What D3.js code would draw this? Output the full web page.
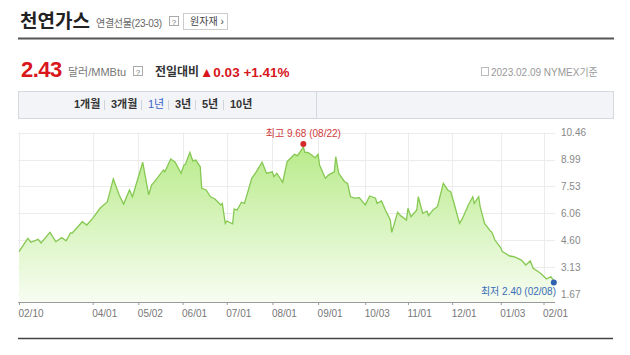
<!DOCTYPE html>
<html>
<head>
<meta charset="utf-8">
<script src="https://cdn.jsdelivr.net/npm/d3@7"></script>
<style>
  body { margin: 0; background: #fff; }
  svg { display: block; font-family: "Liberation Sans", "Noto Sans CJK KR", sans-serif; }
</style>
</head>
<body>
<svg id="chart" width="630" height="355"></svg>
<script>
// chart data
var dates = ["2022-02-10","2022-02-16","2022-02-18","2022-02-23","2022-02-25","2022-03-03","2022-03-07","2022-03-11","2022-03-14","2022-03-17",
  "2022-03-18","2022-03-25","2022-03-28","2022-04-01","2022-04-06","2022-04-11","2022-04-15","2022-04-19","2022-04-22","2022-04-26",
  "2022-04-28","2022-05-05","2022-05-09","2022-05-11","2022-05-13","2022-05-19","2022-05-20","2022-05-24","2022-05-27","2022-05-31",
  "2022-06-02","2022-06-03","2022-06-06","2022-06-08","2022-06-10","2022-06-13","2022-06-14","2022-06-17","2022-06-20","2022-06-23",
  "2022-06-27","2022-06-28","2022-06-30","2022-07-01","2022-07-05","2022-07-06","2022-07-08","2022-07-11","2022-07-13","2022-07-18",
  "2022-07-21","2022-07-25","2022-07-28","2022-08-01","2022-08-02","2022-08-04","2022-08-08","2022-08-11","2022-08-16","2022-08-18",
  "2022-08-22","2022-08-23","2022-08-25","2022-08-26","2022-08-30","2022-09-01","2022-09-02","2022-09-06","2022-09-08","2022-09-12",
  "2022-09-13","2022-09-15","2022-09-19","2022-09-21","2022-09-23","2022-09-26","2022-09-29","2022-10-03","2022-10-06","2022-10-10",
  "2022-10-11","2022-10-14","2022-10-17","2022-10-20","2022-10-21","2022-10-25","2022-10-27","2022-10-31","2022-11-01","2022-11-03",
  "2022-11-07","2022-11-08","2022-11-11","2022-11-14","2022-11-15","2022-11-18","2022-11-21","2022-11-25","2022-11-28","2022-11-30",
  "2022-12-02","2022-12-06","2022-12-08","2022-12-12","2022-12-15","2022-12-16","2022-12-19","2022-12-20","2022-12-23","2022-12-27",
  "2022-12-28","2022-12-30","2023-01-03","2023-01-04","2023-01-06","2023-01-09","2023-01-12","2023-01-17","2023-01-20","2023-01-23",
  "2023-01-25","2023-01-30","2023-02-03","2023-02-06","2023-02-08"];
var prices = [3.98,4.70,4.49,4.65,4.45,5.03,4.52,4.74,4.57,5.01,
  4.98,5.61,5.43,5.79,6.34,6.70,7.94,7.07,6.57,7.34,
  6.97,8.85,7.07,7.61,7.79,8.43,8.33,9.03,8.85,8.25,
  8.70,8.74,9.39,8.92,8.97,8.61,7.43,7.34,6.97,6.85,
  6.52,6.61,5.52,5.65,5.50,6.30,6.25,6.67,6.61,7.97,
  8.33,8.85,8.25,8.33,8.06,8.25,7.76,8.88,9.28,9.21,
  9.68,9.39,9.39,9.34,9.10,9.28,8.70,7.97,8.15,8.33,
  9.15,8.25,7.79,7.70,6.97,6.89,6.92,6.52,7.01,6.89,
  6.61,6.74,6.19,5.70,5.03,6.12,5.94,5.70,6.34,5.88,
  6.25,6.97,6.07,6.19,5.94,6.25,6.43,7.70,7.34,7.25,
  6.70,5.52,5.79,6.52,6.97,6.61,6.97,6.43,5.52,5.10,
  5.03,4.61,4.19,3.98,3.89,3.74,3.70,3.52,3.25,3.47,
  3.07,2.80,2.49,2.61,2.40];
var xTickDates = ["2022-02-10","2022-04-01","2022-05-02","2022-06-01","2022-07-01","2022-08-01","2022-09-01","2022-10-03","2022-11-01","2022-12-01","2023-01-03","2023-02-01"];
var yTicks = [1.67, 3.13, 4.60, 6.06, 7.53, 8.99, 10.46];
var tabs = ["1개월", "3개월", "1년", "3년", "5년", "10년"];

var parse = d3.timeParse("%Y-%m-%d");
var data = dates.map(function(d, i){ return {date: parse(d), value: prices[i]}; });

var svg = d3.select("#chart");

// header
svg.append("text").attr("x", 20).attr("y", 28).attr("font-size", 19).attr("font-weight", "bold")
  .attr("fill", "#222").text("천연가스");
svg.append("text").attr("x", 96).attr("y", 27).attr("font-size", 10).attr("letter-spacing", -0.3).attr("fill", "#666").text("연결선물(23-03)");
svg.append("rect").attr("x", 169.5).attr("y", 16.5).attr("width", 9).attr("height", 9).attr("fill", "#fff").attr("stroke", "#aaa");
svg.append("text").attr("x", 174).attr("y", 24.5).attr("font-size", 8).attr("text-anchor", "middle").attr("fill", "#777").text("?");
svg.append("rect").attr("x", 183.5).attr("y", 13.5).attr("width", 44).attr("height", 16).attr("fill", "#fff").attr("stroke", "#ccc");
svg.append("text").attr("x", 190).attr("y", 25).attr("font-size", 10).attr("fill", "#444").text("원자재 ›");
svg.append("line").attr("x1", 18).attr("x2", 614).attr("y1", 38.5).attr("y2", 38.5).attr("stroke", "#555").attr("stroke-width", 2);

// price row
svg.append("text").attr("x", 21).attr("y", 77).attr("font-size", 22).attr("font-weight", "bold")
  .attr("fill", "#d8161b").attr("letter-spacing", -0.5).text("2.43");
svg.append("text").attr("x", 68).attr("y", 76).attr("font-size", 11).attr("fill", "#777").text("달러/MMBtu");
svg.append("rect").attr("x", 133.5).attr("y", 66.5).attr("width", 9).attr("height", 9).attr("fill", "#fff").attr("stroke", "#aaa");
svg.append("text").attr("x", 138).attr("y", 74.5).attr("font-size", 8).attr("text-anchor", "middle").attr("fill", "#777").text("?");
svg.append("text").attr("x", 155).attr("y", 76).attr("font-size", 12).attr("font-weight", "bold").attr("fill", "#333").text("전일대비");
svg.append("text").attr("x", 200).attr("y", 77).attr("font-size", 13.5).attr("font-weight", "bold").attr("fill", "#d8161b").text("▲0.03 +1.41%");
svg.append("rect").attr("x", 481.5).attr("y", 67.5).attr("width", 7).attr("height", 8).attr("fill", "none").attr("stroke", "#bbb");
svg.append("text").attr("x", 491).attr("y", 76).attr("font-size", 10).attr("fill", "#999").text("2023.02.09 NYMEX기준");

// tab bar
svg.append("rect").attr("x", 18.5).attr("y", 91.5).attr("width", 595).attr("height", 27).attr("fill", "#f2f4f8").attr("stroke", "#d5d8de");
svg.append("line").attr("x1", 316.5).attr("x2", 316.5).attr("y1", 92).attr("y2", 118).attr("stroke", "#d5d8de");
var tabX = [74, 111, 148, 175, 202, 230];
tabs.forEach(function(t, i){
  svg.append("text").attr("x", tabX[i]).attr("y", 108).attr("font-size", 11)
    .attr("font-weight", i == 2 ? "normal" : "bold")
    .attr("fill", i == 2 ? "#3d63c9" : "#333").text(t);
  if (i > 0)
    svg.append("line").attr("x1", tabX[i] - 6.5).attr("x2", tabX[i] - 6.5).attr("y1", 100).attr("y2", 110).attr("stroke", "#d0d4da");
});

// chart
var left = 18, right = 555, bottom = 302;
var x = d3.scaleTime().domain([parse("2022-02-10"), parse("2023-02-01")]).range([19, 543.5]);
var y = d3.scaleLinear().domain([1.67, 10.46]).range([294, 132.7]);

var defs = svg.append("defs");
var grad = defs.append("linearGradient").attr("id", "fillGrad").attr("gradientUnits", "userSpaceOnUse")
  .attr("x1", 0).attr("x2", 0).attr("y1", 140).attr("y2", bottom);
grad.append("stop").attr("offset", "0%").attr("stop-color", "#b6ea86");
grad.append("stop").attr("offset", "100%").attr("stop-color", "#f7fdf2");

// grid
var grid = svg.append("g");
grid.selectAll(".hg").data(yTicks).enter().append("line")
  .attr("x1", left).attr("x2", right)
  .attr("y1", function(d){ return Math.round(y(d)) + 0.5; }).attr("y2", function(d){ return Math.round(y(d)) + 0.5; })
  .attr("stroke", "#ececec");
grid.selectAll(".vg").data(xTickDates).enter().append("line")
  .attr("x1", function(d){ return Math.round(x(parse(d))) + 0.5; }).attr("x2", function(d){ return Math.round(x(parse(d))) + 0.5; })
  .attr("y1", 132.5).attr("y2", bottom).attr("stroke", "#ececec");

var area = d3.area().x(function(d){ return x(d.date); }).y0(bottom).y1(function(d){ return y(d.value); });
var line = d3.line().x(function(d){ return x(d.date); }).y(function(d){ return y(d.value); });

svg.append("path").datum(data).attr("d", area).attr("fill", "url(#fillGrad)");
svg.append("path").datum(data).attr("d", line).attr("fill", "none").attr("stroke", "#85c852").attr("stroke-width", 1.3);

// x axis
var xAxis = d3.axisBottom(x).tickValues(xTickDates.map(parse)).tickFormat(d3.timeFormat("%m/%d")).tickSize(3).tickSizeOuter(0);
var xg = svg.append("g").attr("transform", "translate(0," + bottom + ")").call(xAxis);
xg.select(".domain").attr("d", "M" + left + ",0.5H" + right).attr("stroke", "#9a9a9a");
xg.selectAll(".tick line").attr("stroke", "#9a9a9a");
xg.selectAll(".tick text").attr("text-anchor", "start").attr("x", -1).attr("dy", "0.9em")
  .attr("font-size", 10).attr("fill", "#777").attr("font-family", "Liberation Sans, sans-serif");

// y axis
var yAxis = d3.axisRight(y).tickValues(yTicks).tickFormat(d3.format(".2f")).tickSize(0);
var yg = svg.append("g").attr("transform", "translate(560,0)").call(yAxis);
yg.select(".domain").remove();
yg.selectAll(".tick text").attr("x", 1).attr("font-size", 10).attr("fill", "#888").attr("font-family", "Liberation Sans, sans-serif");

// max / min markers
var maxPt = data.reduce(function(a, b){ return b.value > a.value ? b : a; });
var minPt = data.reduce(function(a, b){ return b.value < a.value ? b : a; });
var md = d3.timeFormat("%m/%d");
svg.append("circle").attr("cx", x(maxPt.date)).attr("cy", y(maxPt.value) - 3).attr("r", 3).attr("fill", "#d42a2a");
svg.append("text").attr("x", x(maxPt.date)).attr("y", 137).attr("text-anchor", "middle").attr("font-size", 10)
  .attr("fill", "#d03a3a").text("최고 " + maxPt.value.toFixed(2) + " (" + md(maxPt.date) + ")");
svg.append("circle").attr("cx", x(minPt.date)).attr("cy", y(minPt.value) + 2).attr("r", 3).attr("fill", "#2e62b0");
svg.append("text").attr("x", 556).attr("y", 295).attr("text-anchor", "end").attr("font-size", 10)
  .attr("fill", "#3a6cb5").text("최저 " + minPt.value.toFixed(2) + " (" + md(minPt.date) + ")");

// bottom rule
svg.append("line").attr("x1", 18).attr("x2", 613).attr("y1", 338.5).attr("y2", 338.5).attr("stroke", "#444").attr("stroke-width", 1.5);
</script>
</body>
</html>
